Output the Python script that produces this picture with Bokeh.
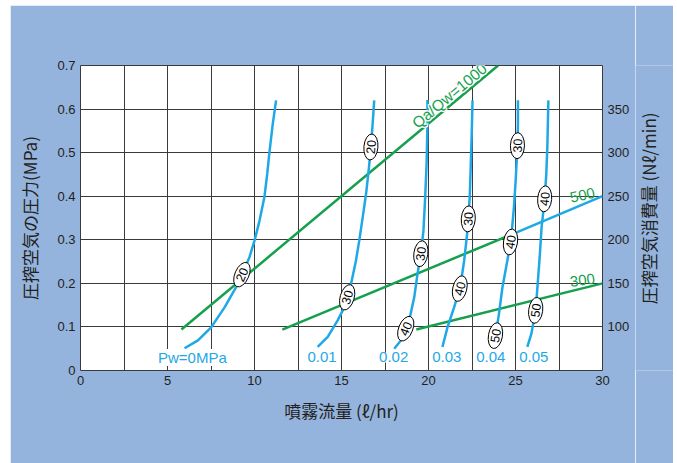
import math
import numpy as np
from bokeh.plotting import figure
from bokeh.models import Range1d, LinearAxis, FixedTicker, Label, Spacer
from bokeh.layouts import row, column
from bokeh.core.properties import value
from bokeh.embed import file_html
from bokeh.resources import INLINE

# ---- data -------------------------------------------------------------
# water pressure curves: spray flow (l/hr) against air pressure (MPa)
pw_labels = ["Pw=0MPa", "0.01", "0.02", "0.03", "0.04", "0.05"]

flow_pw000 = [5.98, 6.75, 7.51, 8.28, 9.05, 9.71, 10.0, 10.29, 10.57, 10.73, 10.86, 11.05, 11.24]
pres_pw000 = [0.051, 0.069, 0.099, 0.145, 0.199, 0.260, 0.298, 0.344, 0.398, 0.451, 0.501, 0.566, 0.620]

flow_pw001 = [13.63, 14.21, 14.78, 15.16, 15.55, 15.83, 16.02, 16.22, 16.41, 16.56, 16.69, 16.79, 16.88]
pres_pw001 = [0.054, 0.077, 0.115, 0.145, 0.199, 0.252, 0.298, 0.352, 0.405, 0.459, 0.513, 0.566, 0.620]

flow_pw002 = [18.03, 18.41, 18.89, 19.18, 19.37, 19.56, 19.71, 19.81, 19.89, 19.94, 19.94]
pres_pw002 = [0.050, 0.069, 0.115, 0.168, 0.222, 0.268, 0.321, 0.398, 0.474, 0.566, 0.621]

flow_pw003 = [20.80, 21.09, 21.47, 21.82, 22.05, 22.24, 22.37, 22.43, 22.49, 22.53]
pres_pw003 = [0.054, 0.099, 0.145, 0.191, 0.252, 0.321, 0.398, 0.474, 0.551, 0.620]

flow_pw004 = [23.70, 23.77, 24.05, 24.25, 24.53, 24.76, 24.91, 25.01, 25.11, 25.14, 25.14]
pres_pw004 = [0.055, 0.061, 0.130, 0.191, 0.252, 0.306, 0.375, 0.436, 0.513, 0.566, 0.620]

flow_pw005 = [25.68, 25.91, 26.16, 26.26, 26.39, 26.50, 26.67, 26.77, 26.83, 26.86, 26.89]
pres_pw005 = [0.054, 0.084, 0.138, 0.191, 0.260, 0.329, 0.390, 0.451, 0.513, 0.566, 0.620]

pw_flows = [flow_pw000, flow_pw001, flow_pw002, flow_pw003, flow_pw004, flow_pw005]
pw_press = [pres_pw000, pres_pw001, pres_pw002, pres_pw003, pres_pw004, pres_pw005]

# markers along each curve: (pressure, marker text)
pw_marks = [
    [(0.220, "20")],
    [(0.168, "30"), (0.513, "20")],
    [(0.096, "40"), (0.268, "30")],
    [(0.188, "40"), (0.348, "30")],
    [(0.080, "50"), (0.295, "40"), (0.516, "30")],
    [(0.138, "50"), (0.394, "40")],
]

# air/water ratio lines: spray flow (l/hr) against air consumption (Nl/min)
ratio_labels = ["Qa/Qw=1000", "500", "300"]
ratio_flow_1000 = [5.8, 24.0]
ratio_air_1000 = [97, 400]
ratio_flow_500 = [11.6, 25.0, 30.0]
ratio_air_500 = [97, 208, 250]
ratio_flow_300 = [19.3, 30.0]
ratio_air_300 = [97, 150]

x_ticks = [0, 5, 10, 15, 20, 25, 30]
x_grid = [0, 2.5, 5, 7.5, 10, 12.5, 15, 17.5, 20, 22.5, 25, 27.5, 30]
y_ticks = [0, 0.1, 0.2, 0.3, 0.4, 0.5, 0.6, 0.7]
y_tick_text = {0: "0", 0.1: "0.1", 0.2: "0.2", 0.3: "0.3", 0.4: "0.4", 0.5: "0.5", 0.6: "0.6", 0.7: "0.7"}
air_ticks = [100, 150, 200, 250, 300, 350]
air_title = "圧搾空気消費量 (Nℓ/min)"

# ---- styling ----------------------------------------------------------
BG = "#95b4dd"
CYAN = "#1ea8e6"
GREEN = "#14a04c"
INK = "#231f20"
GRID = "#3a3a3a"
NUM_FONT = "Liberation Sans"
JP_FONT = "Noto Sans CJK JP"

W, H = 625, 458          # main chart
TW = 38                  # strip carrying the right-hand title
BL, BR, BT, BB = 70, 33, 60, 93
X0, X1, Y0, Y1, A0, A1 = 0, 30, 0, 0.7, 50, 400
sx = (W - BL - BR) / (X1 - X0)
sy = (H - BT - BB) / (Y1 - Y0)
sa = (H - BT - BB) / (A1 - A0)

p = figure(width=W, height=H, x_range=Range1d(X0, X1), y_range=Range1d(Y0, Y1),
           output_backend="svg", toolbar_location=None,
           min_border_left=BL, min_border_right=BR, min_border_top=BT, min_border_bottom=BB,
           background_fill_color="white", border_fill_color=BG)
p.outline_line_color = GRID
p.outline_line_width = 1
p.extra_y_ranges = {"air": Range1d(A0, A1)}

p.xgrid.ticker = FixedTicker(ticks=x_grid)
p.ygrid.ticker = FixedTicker(ticks=y_ticks)
for g in (p.xgrid, p.ygrid):
    g.grid_line_color = GRID
    g.grid_line_width = 1

bottom = p.xaxis[0]
left = p.yaxis[0]
bottom.ticker = FixedTicker(ticks=x_ticks)
left.ticker = FixedTicker(ticks=y_ticks)
left.major_label_overrides = y_tick_text

right = LinearAxis(y_range_name="air", ticker=FixedTicker(ticks=air_ticks))
p.add_layout(right, "right")

bottom.axis_label = "噴霧流量 (ℓ/hr)"
left.axis_label = "圧搾空気の圧力(MPa)"

for ax in (bottom, left, right):
    ax.axis_line_color = None
    ax.major_tick_line_color = None
    ax.minor_tick_line_color = None
    ax.major_tick_out = 0
    ax.major_tick_in = 0
    ax.major_label_text_font = NUM_FONT
    ax.major_label_text_font_size = "13px"
    ax.major_label_text_color = INK
    ax.axis_label_text_font = JP_FONT
    ax.axis_label_text_font_size = "17px"
    ax.axis_label_text_font_style = "normal"
    ax.axis_label_text_color = INK
    ax.major_label_standoff = 5
left.axis_label_standoff = 12
bottom.axis_label_standoff = 10

# ---- air/water ratio lines (drawn against the consumption scale) ------
p.line(ratio_flow_1000, ratio_air_1000, y_range_name="air", line_color=GREEN, line_width=2.5)
p.line(ratio_flow_500[:2], ratio_air_500[:2], y_range_name="air", line_color=GREEN, line_width=2.5)
p.line(ratio_flow_500[1:], ratio_air_500[1:], y_range_name="air", line_color=CYAN, line_width=2.5)
p.line(ratio_flow_300, ratio_air_300, y_range_name="air", line_color=GREEN, line_width=2.5)

# ---- pressure curves --------------------------------------------------
for fx, py in zip(pw_flows, pw_press):
    p.line(fx, py, line_color=CYAN, line_width=2.5)

# ---- oval markers along the curves ------------------------------------
mx, my, mt, ma = [], [], [], []
for fx, py, marks in zip(pw_flows, pw_press, pw_marks):
    fx_a, py_a = np.array(fx), np.array(py)
    for pr, txt in marks:
        xc = float(np.interp(pr, py_a, fx_a))
        dx = float(np.interp(pr + 0.02, py_a, fx_a) - np.interp(pr - 0.02, py_a, fx_a))
        ang = math.atan2(0.04 * sy, dx * sx)
        mx.append(xc); my.append(pr); mt.append(txt); ma.append(ang)

p.ellipse(mx, my, width=26, height=14, angle=ma, width_units="screen", height_units="screen",
          fill_color="white", line_color="black", line_width=1)
p.text(mx, my, text=mt, angle=ma, text_align="center", text_baseline="middle",
       text_font=value(NUM_FONT), text_font_size="12.5px", text_color="black")

# ---- ratio line labels ------------------------------------------------
ang1000 = math.atan2((ratio_air_1000[1] - ratio_air_1000[0]) * sa,
                     (ratio_flow_1000[1] - ratio_flow_1000[0]) * sx)
halo = [(-1.2, 0), (1.2, 0), (0, -1.2), (0, 1.2), (-1, -1), (1, 1), (-1, 1), (1, -1)]
for ox, oy in halo:
    p.text([21.2], [0.631], text=[ratio_labels[0]], angle=ang1000, x_offset=ox, y_offset=oy,
           text_align="center", text_baseline="middle", text_font=value(NUM_FONT),
           text_font_size="15.5px", text_color="white")
p.text([21.2], [0.631], text=[ratio_labels[0]], angle=ang1000, text_align="center",
       text_baseline="middle", text_font=value(NUM_FONT), text_font_size="15.5px", text_color=GREEN)
p.text([28.85, 28.85], [0.402, 0.207], text=ratio_labels[1:], angle=[0.21, 0.14],
       text_align="center", text_baseline="middle", text_font=value(NUM_FONT),
       text_font_size="15px", text_color=GREEN)

# ---- water pressure labels --------------------------------------------
pw_label_x = [6.43, 13.88, 18.0, 21.05, 23.58, 26.05]
for lx, txt in zip(pw_label_x, pw_labels):
    p.add_layout(Label(x=lx, y=0.030, text=txt, text_align="center", text_baseline="middle",
                       text_font=NUM_FONT, text_font_size="15px", text_color=CYAN,
                       background_fill_color="white"))

# ---- right-hand title strip (reads bottom to top) ----------------------
t = figure(width=TW, height=H, x_range=Range1d(0, TW), y_range=Range1d(0, H),
           output_backend="svg", toolbar_location=None, x_axis_type=None, y_axis_type=None,
           min_border=0, min_border_left=0, min_border_right=0, min_border_top=0,
           min_border_bottom=0, background_fill_color=BG, border_fill_color=BG)
t.outline_line_color = None
t.grid.visible = False
t.text([13], [H - BT - (H - BT - BB) / 2 - 2], text=[air_title], angle=math.pi / 2,
       text_align="center", text_baseline="middle", text_font=value(JP_FONT),
       text_font_size="17px", text_color=INK)

layout = row(Spacer(width=10), column(Spacer(height=5), row(p, t)))
open("out.html", "w").write(file_html(layout, INLINE))
